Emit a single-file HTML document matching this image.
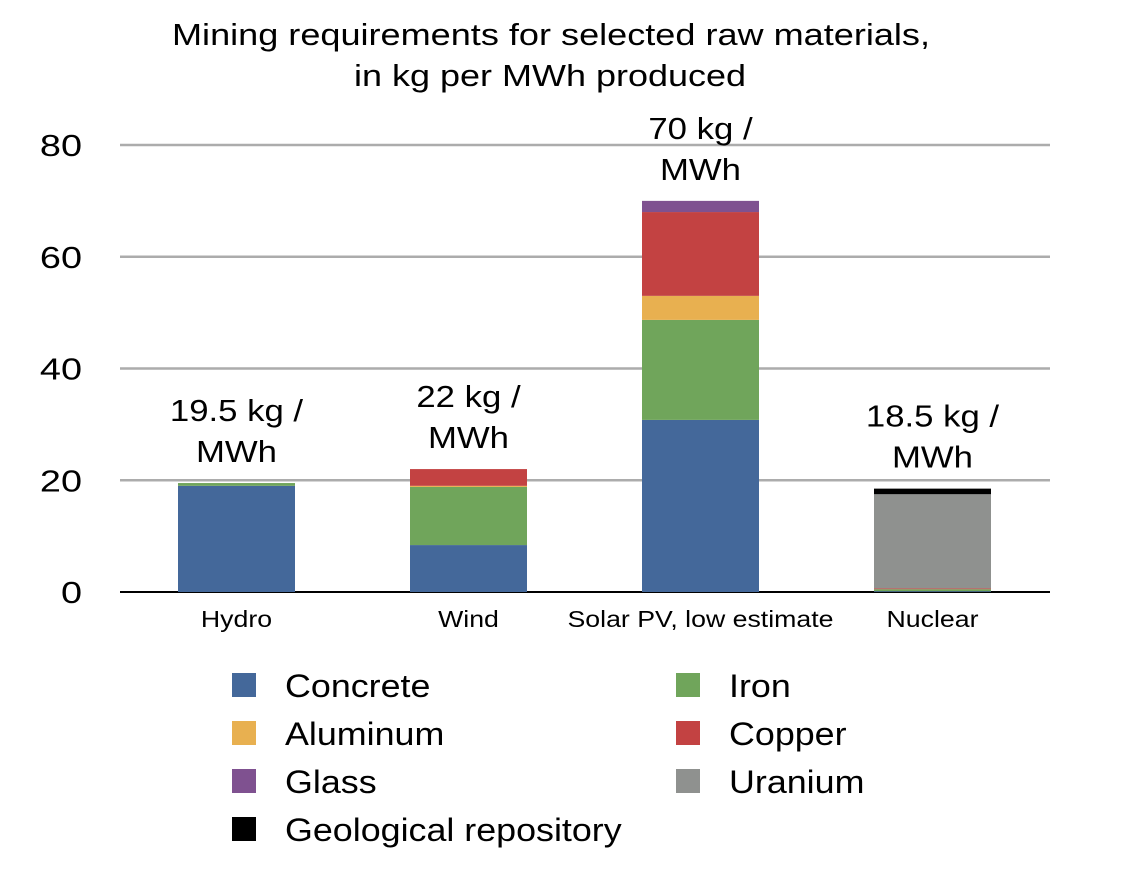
<!DOCTYPE html>
<html><head><meta charset="utf-8"><style>
html,body{margin:0;padding:0;background:#fff;}
svg{display:block;font-family:"Liberation Sans",sans-serif;}
</style></head><body>
<svg id="chart" width="1129" height="871">
<text x="551" y="45" font-size="31" text-anchor="middle" textLength="758" lengthAdjust="spacingAndGlyphs">Mining requirements for selected raw materials,</text>
<text x="550" y="86" font-size="31" text-anchor="middle" textLength="392" lengthAdjust="spacingAndGlyphs">in kg per MWh produced</text>
<g id="grid"></g><g id="bars"></g><g id="labels"></g><g id="legend"></g>
</svg>
<script>
const categories=["Hydro","Wind","Solar PV, low estimate","Nuclear"];
const series=["Concrete","Iron","Aluminum","Copper","Glass","Uranium","Geological repository"];
const colors=["#44689a","#70a55b","#e8b050","#c34242","#7f5190","#8f918f","#000000"];
const concrete=[19,8.4,30.8,0.15];
const iron=[0.5,10.4,17.9,0.35];
const aluminum=[0,0.2,4.3,0];
const copper=[0,3,15,0.15];
const glass=[0,0,2,0];
const uranium=[0,0,0,16.85];
const geo=[0,0,0,1.0];
const totalLabels=[["19.5 kg /","MWh"],["22 kg /","MWh"],["70 kg /","MWh"],["18.5 kg /","MWh"]];
const yTicks=[0,20,40,60,80];
const values=[concrete,iron,aluminum,copper,glass,uranium,geo];
const NS="http://www.w3.org/2000/svg";
const y=v=>592-v*5.5875;
const xc=i=>236.5+i*232;
const bw=117;
function mk(tag,attrs,parent,text){const e=document.createElementNS(NS,tag);for(const k in attrs)e.setAttribute(k,attrs[k]);if(text!==undefined)e.textContent=text;parent.appendChild(e);return e;}
function fit(e,scale){const w=e.getComputedTextLength();e.setAttribute('textLength',w*scale);e.setAttribute('lengthAdjust','spacingAndGlyphs');}
const grid=document.getElementById('grid'),bars=document.getElementById('bars'),labels=document.getElementById('labels'),legend=document.getElementById('legend');
yTicks.forEach(t=>{
  if(t>0){const l=mk('line',{x1:120,x2:1050,y1:y(t),y2:y(t),stroke:'#acacac','stroke-width':2.5},grid);
  
  }
  const tx=mk('text',{x:82,y:y(t)+11,'font-size':31,'text-anchor':'end'},grid,String(t));
  
  
  fit(tx,1.22);
});
categories.forEach((c,i)=>{
  let base=0;
  values.forEach((arr,s)=>{
    const v=arr[i];if(v<=0)return;
    const r=mk('rect',{x:xc(i)-bw/2,y:y(base+v),width:bw,height:v*5.5875,fill:colors[s]},bars);
    
    
    base+=v;
  });
  const t=mk('text',{x:xc(i),y:627,'font-size':23,'text-anchor':'middle'},labels,c);
  
  
  fit(t,1.16);
  const tl=totalLabels[i];
  [0,1].forEach(k=>{
    const e=mk('text',{x:xc(i),y:y(base)-62+k*41,'font-size':31,'text-anchor':'middle'},labels,tl[k]);
    
    
    fit(e,1.12);
  });
});
const ax=mk('line',{x1:120,x2:1050,y1:592,y2:592,stroke:'#000','stroke-width':2},grid);


const order=[0,1,2,3,4,5,6];
order.forEach((s,k)=>{
  const col=(k<6)?k%2:0,row=(k<6)?Math.floor(k/2):3;
  const sx=col?676:232, sy=673+row*48;
  const r=mk('rect',{x:sx,y:sy,width:24,height:24,fill:colors[s]},legend);
  
  
  const t=mk('text',{x:sx+53,y:sy+24,'font-size':32},legend,series[s]);
  
  
  fit(t,1.12);
});
</script>
</body></html>
